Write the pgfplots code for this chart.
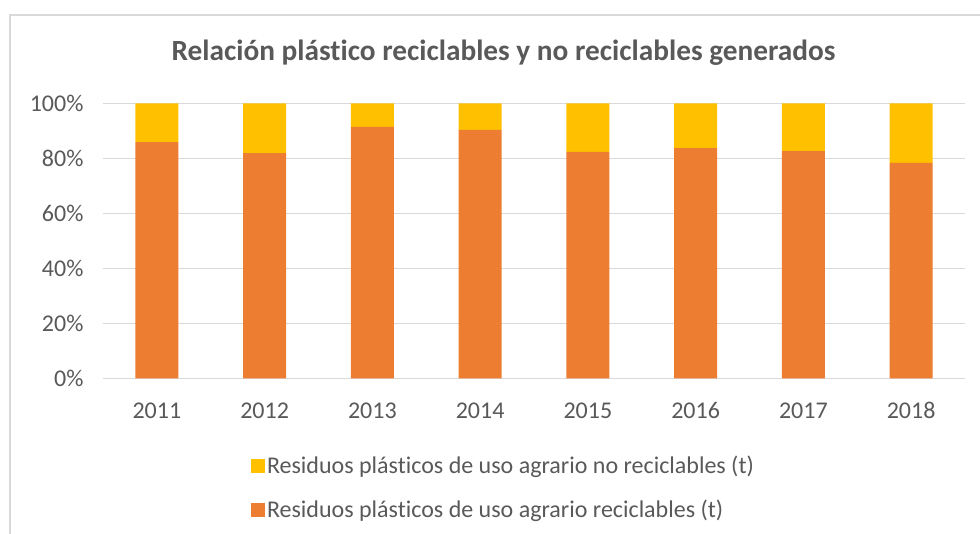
\documentclass[border=0pt]{standalone}
\usepackage{pgfplots}
\pgfplotsset{compat=1.18}
\usepackage{fontspec}
\setmainfont{Carlito}[Ligatures=NoCommon]
\definecolor{orng}{HTML}{ED7D31}
\definecolor{yel}{HTML}{FFC000}
\definecolor{txt}{HTML}{595959}
\definecolor{grd}{HTML}{D9D9D9}
\begin{document}
\begin{tikzpicture}[x=1pt,y=1pt]
\path[use as bounding box] (0,0) rectangle (980,534);
\draw[grd, line width=2pt] (10,0) -- (10,519) -- (981,519);
\node[font=\bfseries\fontsize{29.3}{33}\selectfont, text=txt] at (503.5,481) {Relación plástico reciclables y no reciclables generados};
\begin{axis}[
  at={(103pt,155.7pt)}, anchor=south west,
  scale only axis, width=862pt, height=275pt,
  ybar stacked, bar width=43pt,
  xmin=-0.5, xmax=7.5, ymin=0, ymax=100,
  xtick={0,...,7},
  xticklabels={2011,2012,2013,2014,2015,2016,2017,2018},
  ytick={0,20,...,100},
  yticklabel={\pgfmathprintnumber{\tick}\%},
  /pgf/number format/assume math mode=true,
  ymajorgrids, grid style={grd, line width=1pt},
  axis x line*=bottom, axis y line*=left,
  x axis line style={grd, line width=1pt, -},
  y axis line style={draw=none},
  major tick length=0pt,
  tick label style={font=\fontsize{24}{27}\selectfont, text=txt},
  yticklabel style={xshift=-16pt},
  xticklabel style={yshift=-40pt, anchor=base},
  reverse legend,
  legend style={draw=none, fill=none, at={(0.168,-0.268)}, anchor=north west,
    font=\fontsize{24}{27}\selectfont, text=txt, row sep=21pt,
    legend cell align=left},
  legend image code/.code={\fill[#1] (0pt,-7pt) rectangle (14pt,7pt);},
]
\addplot[fill=orng, draw=none] coordinates {(0,85.9) (1,81.9) (2,91.4) (3,90.3) (4,82.3) (5,83.7) (6,82.6) (7,78.3)};
\addplot[fill=yel, draw=none] coordinates {(0,14.1) (1,18.1) (2,8.6) (3,9.7) (4,17.7) (5,16.3) (6,17.4) (7,21.7)};
\legend{Residuos plásticos de uso agrario reciclables (t), Residuos plásticos de uso agrario no reciclables (t)}
\end{axis}
\end{tikzpicture}
\end{document}
